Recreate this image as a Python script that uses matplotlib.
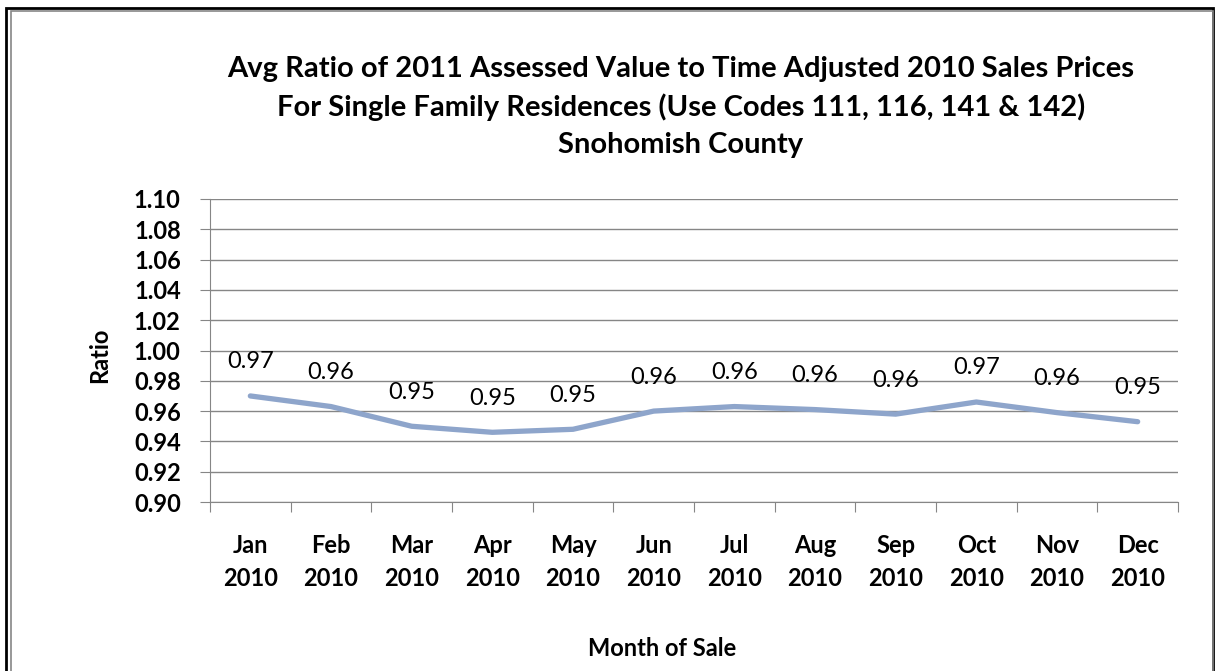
import matplotlib.pyplot as plt
from matplotlib.patches import Rectangle

months = ['Jan', 'Feb', 'Mar', 'Apr', 'May', 'Jun', 'Jul', 'Aug', 'Sep', 'Oct', 'Nov', 'Dec']
year = '2010'
ratio = [0.970, 0.963, 0.950, 0.946, 0.948, 0.960, 0.963, 0.961, 0.958, 0.966, 0.959, 0.953]
yticks = [0.90, 0.92, 0.94, 0.96, 0.98, 1.00, 1.02, 1.04, 1.06, 1.08, 1.10]

plt.rcParams['font.family'] = ['Lato', 'DejaVu Sans']

W, H = 1216, 671
fig = plt.figure(figsize=(W / 100, H / 100), dpi=100)
ax = fig.add_axes([210 / W, 1 - 502 / H, 968 / W, 303 / H])

x = list(range(len(months)))
ax.plot(x, ratio, color='#8EA5CB', lw=3.8, solid_capstyle='round', zorder=3)
for xi, v in zip(x, ratio):
    ax.annotate(f'{v:.2f}', (xi, v), xytext=(0, 24.5), textcoords='offset points',
                ha='center', va='center', fontsize=17, color='black')

ax.set_xlim(-0.5, len(months) - 0.5)
ax.set_ylim(0.90, 1.10)
ax.set_yticks(yticks)
ax.set_yticklabels([f'{t:.2f}' for t in yticks], fontsize=17, fontweight='bold')
ax.yaxis.grid(True, color='#868686', lw=1)
ax.set_axisbelow(True)

ax.set_xticks([i - 0.5 for i in range(len(months) + 1)])
ax.set_xticklabels([])
ax.set_xticks(x, minor=True)
ax.set_xticklabels([f'{m}\n{year}' for m in months], minor=True,
                   fontsize=17, fontweight='bold', linespacing=1.55)
ax.tick_params(axis='x', which='minor', length=0, pad=23)
ax.tick_params(axis='x', which='major', length=7, color='#868686', direction='out')
ax.tick_params(axis='y', length=7, color='#868686', pad=14)

for s in ['top', 'right']:
    ax.spines[s].set_visible(False)
for s in ['left', 'bottom']:
    ax.spines[s].set_color('#868686')

fig.text(100 / W, 1 - 355 / H, 'Ratio', rotation=90, ha='center', va='center',
         fontsize=17, fontweight='bold')
fig.text(662 / W, 1 - 649 / H, 'Month of Sale', ha='center', va='center',
         fontsize=17, fontweight='bold')

fig.text(681 / W, 1 - 107 / H,
         'Avg Ratio of 2011 Assessed Value to Time Adjusted 2010 Sales Prices\n'
         'For Single Family Residences (Use Codes 111, 116, 141 & 142)\n'
         'Snohomish County',
         ha='center', va='center', fontsize=21, fontweight='bold', linespacing=1.5)

# chart frame
fig.patches.append(Rectangle((6 / W, -0.1), (1213 - 6) / W, 1.1 - 8 / H, transform=fig.transFigure,
                             fill=False, ec='black', lw=2))
fig.patches.append(Rectangle((11 / W, -0.1), (1213 - 11) / W, 1.1 - 11 / H, transform=fig.transFigure,
                             fill=False, ec='#868686', lw=1.2))

fig.savefig('out.png', dpi=100)
